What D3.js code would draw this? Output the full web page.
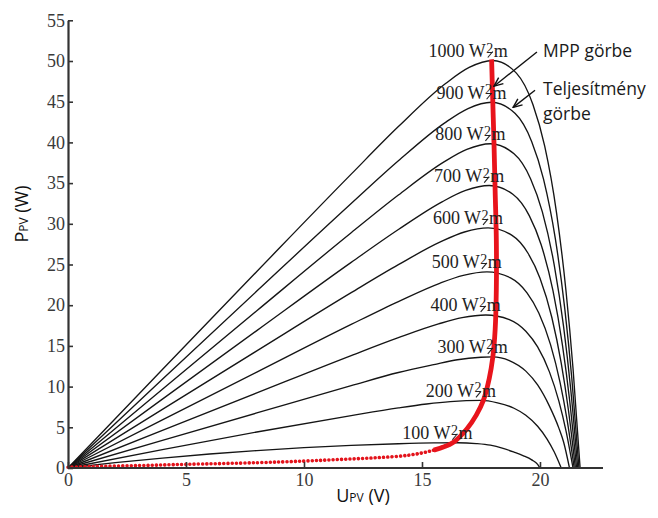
<!DOCTYPE html>
<html>
<head>
<meta charset="utf-8">
<script src="https://cdn.jsdelivr.net/npm/d3@7"></script>
<style>
  body { margin: 0; background: #fff; }
  svg { display: block; }
</style>
</head>
<body>
<svg id="chart" width="658" height="518"></svg>
<script>
// P–U characteristics of a PV module at different irradiance levels (W/m²)
const irradiance = [1000, 900, 800, 700, 600, 500, 400, 300, 200, 100];

// [U (V), P (W)] samples for each irradiance curve
const curve1000 = [[0,0],[4,12.1],[8,24.14],[12,36.1],[14,41.94],[16,47.23],[17,49.21],[18,50.06],[19,48.51],[19.7,44.66],[20.2,39.53],[20.7,31.38],[21.1,21.8],[21.4,12.22],[21.7,0]];
const curve900  = [[0,0],[4,10.89],[8,21.73],[12,32.49],[14,37.74],[15.95,42.37],[16.95,44.16],[17.95,44.93],[18.95,43.54],[19.65,40.09],[20.15,35.49],[20.65,28.17],[21.05,19.58],[21.35,10.97],[21.65,0]];
const curve800  = [[0,0],[4,9.68],[8,19.32],[12,28.9],[14,33.53],[15.9,37.54],[16.9,39.14],[17.9,39.83],[18.9,38.6],[19.6,35.54],[20.1,31.46],[20.6,24.98],[21.0,17.36],[21.3,9.73],[21.6,0]];
const curve700  = [[0,0],[4,8.46],[8,16.88],[12,25.26],[14,29.3],[15.85,32.7],[16.85,34.1],[17.85,34.7],[18.85,33.64],[19.55,30.98],[20.05,27.42],[20.55,21.78],[20.95,15.13],[21.25,8.48],[21.55,0]];
const curve600  = [[0,0],[4,7.21],[8,14.39],[12,21.54],[14,24.98],[15.8,27.8],[16.8,28.99],[17.8,29.5],[18.8,28.61],[19.5,26.35],[20.0,23.32],[20.5,18.52],[20.9,12.87],[21.2,7.22],[21.5,0]];
const curve500  = [[0,0],[4,5.9],[8,11.78],[12,17.64],[14,20.45],[15.75,22.69],[16.75,23.66],[17.75,24.09],[18.75,23.36],[19.45,21.52],[19.95,19.05],[20.45,15.13],[20.85,10.51],[21.15,5.89],[21.45,0]];
const curve400  = [[0,0],[4,4.62],[8,9.22],[12,13.81],[14,16.01],[15.7,17.7],[16.7,18.47],[17.7,18.8],[18.7,18.24],[19.4,16.8],[19.9,14.87],[20.4,11.81],[20.8,8.21],[21.1,4.6],[21.4,0]];
const curve300  = [[0,0],[4,3.39],[8,6.76],[12,10.12],[14,11.73],[15.5,12.7],[16.5,13.3],[17.5,13.6],[18.0,13.65],[18.7,13.2],[19.4,11.9],[19.9,10.2],[20.4,7.6],[20.8,4.9],[21.0,3.2],[21.25,0]];
const curve200  = [[0,0],[4,2.26],[8,4.42],[12,6.44],[14,7.38],[15.2,7.86],[16.2,8.15],[17.5,8.3],[18.2,8.0],[18.9,7.34],[19.4,6.48],[19.9,5.13],[20.3,3.56],[20.6,1.99],[20.9,0]];
const curve100  = [[0,0],[2,0.66],[4,1.22],[6,1.72],[8,2.14],[10,2.5],[12,2.78],[14,2.98],[15.5,3.08],[16.5,3.1],[17.3,3.0],[17.9,2.8],[18.4,2.45],[18.9,1.95],[19.3,1.5],[19.65,1.0],[19.9,0.45],[20.0,0]];
const curves = [curve1000, curve900, curve800, curve700, curve600, curve500, curve400, curve300, curve200, curve100];

// Maximum power point locus: sparse dotted part at low irradiance, dense part above
const mppLow  = [[0,0.1],[1,0.18],[3,0.3],[5,0.45],[8,0.65],[10,0.85],[11.5,1.05],[13,1.25],[14.5,1.6],[15.5,2.2],[16.3,3.1]];
const mppHigh = [[15.5,2.2],[16.3,3.1],[16.9,4.8],[17.3,6.5],[17.6,8.3],[17.85,11],[18.0,13.6],[18.1,17],[18.15,22],[18.15,28],[18.1,34],[18.05,40],[18.0,45],[17.95,50.2]];

// Axis ticks
const xTicks = [0, 5, 10, 15, 20];
const yTicks = [0, 5, 10, 15, 20, 25, 30, 35, 40, 45, 50, 55];

const svg = d3.select("#chart");
const x = d3.scaleLinear().domain([0, 22.67]).range([68, 603]);
const y = d3.scaleLinear().domain([0, 55]).range([468, 20.3]);

const serif = "'Liberation Serif', 'Times New Roman', serif";
const sans = "'Open Sans', 'Noto Sans', sans-serif";

// Curves
const line = d3.line().x(d => x(d[0])).y(d => y(d[1])).curve(d3.curveMonotoneX);
svg.append("g")
  .selectAll("path")
  .data(curves)
  .join("path")
  .attr("d", line)
  .attr("fill", "none")
  .attr("stroke", "#151515")
  .attr("stroke-width", 1.35);

// MPP locus
const mppLine = d3.line().x(d => x(d[0])).y(d => y(d[1])).curve(d3.curveCatmullRom.alpha(0.5));
svg.append("path")
  .attr("d", mppLine(mppLow))
  .attr("fill", "none")
  .attr("stroke", "#e3131b")
  .attr("stroke-width", 3.6)
  .attr("stroke-linecap", "round")
  .attr("stroke-dasharray", "0.01 4.2");
svg.append("path")
  .attr("d", mppLine(mppHigh))
  .attr("fill", "none")
  .attr("stroke", "#e8141c")
  .attr("stroke-width", 4.8);

// Axes
const yAxis = d3.axisLeft(y).tickValues(yTicks).tickSizeInner(-5).tickSizeOuter(0).tickPadding(3);
const xAxis = d3.axisBottom(x).tickValues(xTicks).tickSizeInner(-6).tickSizeOuter(0).tickPadding(5);

const gy = svg.append("g").attr("transform", `translate(${x(0)},0)`).call(yAxis);
const gx = svg.append("g").attr("transform", `translate(0,${y(0)})`).call(xAxis);
gx.select(".domain").attr("d", `M${x(0)},0H${x.range()[1]}`);

[gx, gy].forEach(g => {
  g.select(".domain").attr("stroke", "#333").attr("stroke-width", 2.2);
  g.selectAll(".tick line").attr("stroke", "#333").attr("stroke-width", 1.6);
  g.selectAll(".tick text")
    .attr("fill", "#3a3a3a")
    .style("font-family", serif)
    .style("font-size", "18px");
});

// Irradiance labels above each curve's maximum: "W", raised "2", a small slash stroke, "m"
const labelG = svg.append("g")
  .style("font-family", serif)
  .style("font-size", "18px")
  .attr("fill", "#222");
curves.forEach((c, i) => {
  const peak = d3.greatest(c, d => d[1]);
  const bx = x(peak[0]) + 15;
  const by = y(peak[1]) - 3.5;
  const head = `${irradiance[i]} W`;
  const t = labelG.append("text")
    .attr("x", bx)
    .attr("y", by)
    .attr("text-anchor", "end");
  t.append("tspan").text(head);
  t.append("tspan").attr("font-size", 14).attr("dx", 0.5).attr("dy", -4.5).text("2");
  t.append("tspan").attr("dx", 0.5).attr("dy", 4.5).text("m");
  const p = t.node().getStartPositionOfChar(head.length);
  labelG.append("line")
    .attr("x1", p.x + 1.5).attr("y1", by + 0.5)
    .attr("x2", p.x + 6.5).attr("y2", by - 5.5)
    .attr("stroke", "#222")
    .attr("stroke-width", 1.1);
});

// Axis titles
const yTitle = svg.append("text")
  .attr("transform", `translate(28,${214})rotate(-90)`)
  .attr("text-anchor", "middle")
  .style("font-family", sans)
  .style("font-size", "18px")
  .attr("fill", "#111");
yTitle.append("tspan").text("P");
yTitle.append("tspan").attr("font-size", 12).text("PV");
yTitle.append("tspan").text(" (W)");

const xTitle = svg.append("text")
  .attr("x", 363)
  .attr("y", 502)
  .attr("text-anchor", "middle")
  .style("font-family", sans)
  .style("font-size", "18px")
  .attr("fill", "#111");
xTitle.append("tspan").text("U");
xTitle.append("tspan").attr("font-size", 12).text("PV");
xTitle.append("tspan").text(" (V)");

// Annotations with arrows
const defs = svg.append("defs");
defs.append("marker")
  .attr("id", "barb")
  .attr("viewBox", "-10 -5 11 10")
  .attr("refX", 0).attr("refY", 0)
  .attr("markerWidth", 11).attr("markerHeight", 10)
  .attr("markerUnits", "userSpaceOnUse")
  .attr("orient", "auto")
  .append("path")
  .attr("d", "M-9,-3.8L0,0L-9,3.8")
  .attr("fill", "none")
  .attr("stroke", "#111")
  .attr("stroke-width", 1.4);

const notes = [
  { lines: ["MPP görbe"], at: [20.13, 50.5], from: [19.87, 51.1], to: [18.05, 46.9] },
  { lines: ["Teljesítmény", "görbe"], at: [20.13, 45.8], from: [19.79, 46.4], to: [18.86, 44.3] }
];
notes.forEach(n => {
  svg.append("line")
    .attr("x1", x(n.from[0])).attr("y1", y(n.from[1]))
    .attr("x2", x(n.to[0])).attr("y2", y(n.to[1]))
    .attr("stroke", "#111")
    .attr("stroke-width", 1.4)
    .attr("marker-end", "url(#barb)");
  const t = svg.append("text")
    .attr("x", x(n.at[0]))
    .attr("y", y(n.at[1]))
    .style("font-family", sans)
    .style("font-size", "17.5px")
    .attr("fill", "#1a1a1a");
  n.lines.forEach((s, k) => {
    t.append("tspan").attr("x", x(n.at[0])).attr("dy", k ? 25 : 0).text(s);
  });
});
</script>
</body>
</html>
